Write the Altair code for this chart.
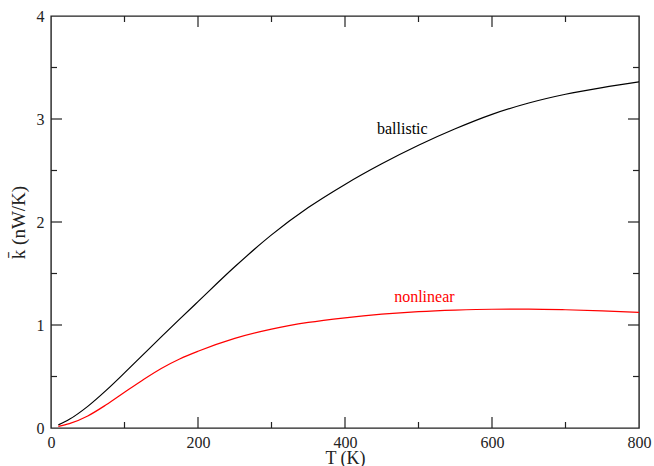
import altair as alt
import pandas as pd

# Temperature grid (K) and thermal conductance curves (nW/K)
T_VALUES = [10, 25, 50, 75, 100, 125, 150, 175, 200, 250, 300, 350, 400,
            450, 500, 550, 600, 650, 700, 750, 800]
K_BALLISTIC = [0.03, 0.084, 0.21, 0.365, 0.535, 0.71, 0.885, 1.057, 1.227,
               1.565, 1.875, 2.14, 2.365, 2.565, 2.745, 2.905, 3.045, 3.155,
               3.24, 3.305, 3.36]
K_NONLINEAR = [0.015, 0.042, 0.117, 0.225, 0.347, 0.467, 0.578, 0.67, 0.745,
               0.87, 0.96, 1.025, 1.07, 1.105, 1.13, 1.145, 1.153, 1.154,
               1.148, 1.137, 1.122]

# Curve labels: text, anchor temperature, anchor conductance, colour
LABELS = ["ballistic", "nonlinear"]
LABEL_T = [478, 508]
LABEL_K = [2.855, 1.228]
LABEL_COLORS = ["#000000", "#ff0000"]

# Axis ticks
X_MAJOR = [0, 200, 400, 600, 800]
X_INNER_MAJOR = [200, 400, 600]
X_MINOR = [100, 300, 500, 700]
Y_MAJOR = [0, 1, 2, 3, 4]
Y_INNER_MAJOR = [1, 2, 3]
Y_MINOR = [0.5, 1.5, 2.5, 3.5]

W, H = 588, 412
FONT = "Liberation Serif"
INK = "#222222"
MAJOR_LEN, MINOR_LEN = 11, 6

x_scale = alt.Scale(domain=[0, 800], nice=False, zero=False)
y_scale = alt.Scale(domain=[0, 4], nice=False, zero=False)

x_axis = alt.Axis(
    values=X_MAJOR, ticks=False, domain=False, grid=False,
    labelFont=FONT, labelFontSize=16, labelColor=INK, labelPadding=6,
    labelFlush=False, title="T (K)", titleFont=FONT, titleFontSize=18,
    titleFontWeight="normal", titleColor=INK, titleY=35,
    titleBaseline="alphabetic",
)
y_axis = alt.Axis(
    values=Y_MAJOR, ticks=False, domain=False, grid=False,
    labelFont=FONT, labelFontSize=16, labelColor=INK, labelPadding=7,
    labelFlush=False, labelBaseline="middle",
    title="k\u0304 (nW/K)", titleFont=FONT, titleFontSize=19,
    titleFontWeight="normal", titleColor=INK, titleAngle=270,
    titleX=-27, titleY=H / 2, titleAlign="center",
    titleBaseline="alphabetic",
)


def X(field="T"):
    return alt.X(f"{field}:Q", scale=x_scale, axis=x_axis)


def Y(field="k"):
    return alt.Y(f"{field}:Q", scale=y_scale, axis=y_axis)


curves = pd.DataFrame({
    "T": T_VALUES * 2,
    "k": K_BALLISTIC + K_NONLINEAR,
    "series": ["ballistic"] * len(T_VALUES) + ["nonlinear"] * len(T_VALUES),
})

lines = alt.Chart(curves).mark_line(strokeWidth=1.2, interpolate="monotone").encode(
    x=X(), y=Y(),
    color=alt.Color("series:N", scale=alt.Scale(domain=LABELS, range=LABEL_COLORS),
                    legend=None),
)

labels = alt.Chart(pd.DataFrame({
    "T": LABEL_T, "k": LABEL_K, "text": LABELS, "c": LABEL_COLORS,
})).mark_text(font=FONT, fontSize=16, align="center", baseline="alphabetic").encode(
    x=X(), y=Y(),
    text="text:N",
    color=alt.Color("c:N", scale=None),
)

# Inward-pointing ticks on all four sides of the frame
tick_layers = []
for vals, length in [(X_INNER_MAJOR, MAJOR_LEN), (X_MINOR, MINOR_LEN)]:
    df = pd.DataFrame({"T": vals})
    for y0, y1 in [(H, H - length), (0, length)]:
        tick_layers.append(
            alt.Chart(df).mark_rule(color=INK, strokeWidth=1.2).encode(
                x=X(), y=alt.value(y0), y2=alt.value(y1),
            )
        )
for vals, length in [(Y_INNER_MAJOR, MAJOR_LEN), (Y_MINOR, MINOR_LEN)]:
    df = pd.DataFrame({"k": vals})
    for x0, x1 in [(0, length), (W, W - length)]:
        tick_layers.append(
            alt.Chart(df).mark_rule(color=INK, strokeWidth=1.2).encode(
                y=Y(), x=alt.value(x0), x2=alt.value(x1),
            )
        )

chart = alt.layer(lines, labels, *tick_layers).properties(
    width=W, height=H,
    padding={"left": 51, "top": 16, "right": 15, "bottom": 38},
    autosize=alt.AutoSizeParams(type="none"),
    background="white",
).configure_view(stroke=INK, strokeWidth=1.4)

chart.save("out.html", embed_options={"renderer": "svg", "actions": False})
